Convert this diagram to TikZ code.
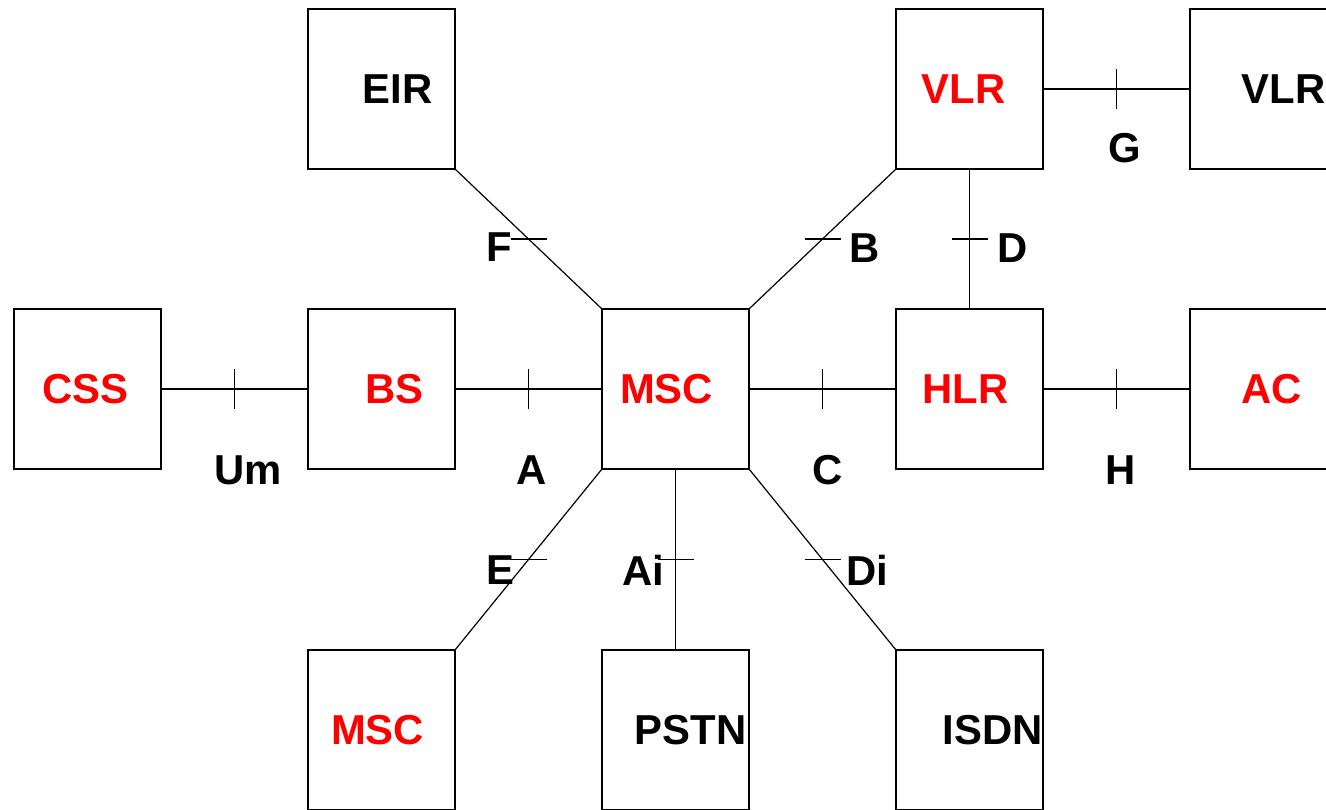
\documentclass[tikz,border=0pt]{standalone}
\usepackage{fontspec}
\setmainfont{Liberation Sans}
\usetikzlibrary{positioning,calc}

\begin{document}
\begin{tikzpicture}[
    x=1bp, y=1bp,
    node distance=147bp,
    box/.style={draw, rectangle, line width=1.3bp, outer sep=0, minimum width=147bp, minimum height=160bp, inner sep=0},
    elemtxt/.style={font=\fontsize{42}{50}\selectfont\bfseries, inner sep=0, anchor=center},
    hot/.style={text=red},
    iftxt/.style={font=\fontsize{42}{50}\selectfont\bfseries, inner sep=0, anchor=center},
    link/.style={line width=1.2bp}]
\useasboundingbox (0,0) rectangle (1326,809);

\node[box] (msc) at (675.5,420) {};
\node[box, left=of msc] (bs) {};
\node[box, left=of bs] (css) {};
\node[box, right=of msc] (hlr) {};
\node[box, right=of hlr] (ac) {};
\node[box, above left=140bp and 147bp of msc] (eir) {};
\node[box, above right=140bp and 147bp of msc] (vlr) {};
\node[box, right=of vlr] (vlrb) {};
\node[box, below left=181bp and 147bp of msc] (mscb) {};
\node[box, below=181bp of msc] (pstn) {};
\node[box, below right=181bp and 147bp of msc] (isdn) {};

\node[elemtxt, hot] (msc-t)  at ([xshift=-9bp]msc.center)   {MSC};
\node[elemtxt, hot] (bs-t)   at ([xshift=13bp]bs.center)    {BS};
\node[elemtxt, hot] (css-t)  at ([xshift=-2bp]css.center)   {CSS};
\node[elemtxt, hot] (hlr-t)  at ([xshift=-4bp]hlr.center)   {HLR};
\node[elemtxt, hot] (ac-t)   at ([xshift=8bp]ac.center)     {AC};
\node[elemtxt]      (eir-t)  at ([xshift=16bp]eir.center)   {EIR};
\node[elemtxt, hot] (vlr-t)  at ([xshift=-6bp]vlr.center)   {VLR};
\node[elemtxt]      (vlrb-t) at ([xshift=20bp]vlrb.center)  {VLR};
\node[elemtxt, hot] (mscb-t) at ([xshift=-4bp]mscb.center)  {MSC};
\node[elemtxt]      (pstn-t) at ([xshift=15bp]pstn.center)  {PSTN};
\node[elemtxt]      (isdn-t) at ([xshift=23bp]isdn.center)  {ISDN};

\path[draw, link] (eir.south east) -- coordinate[midway] (f-tick) (msc.north west);
\path[draw, link] (vlr.south west) -- coordinate[midway] (b-tick) (msc.north east);
\path[draw, link] (vlr.south) -- coordinate[midway] (d-tick) (hlr.north);
\path[draw, link] (vlr.east) -- coordinate[midway] (g-tick) (vlrb.west);
\path[draw, link] (css.east) -- coordinate[midway] (um-tick) (bs.west);
\path[draw, link] (bs.east) -- coordinate[midway] (a-tick) (msc.west);
\path[draw, link] (msc.east) -- coordinate[midway] (c-tick) (hlr.west);
\path[draw, link] (hlr.east) -- coordinate[midway] (h-tick) (ac.west);
\path[draw, link] (msc.south west) -- coordinate[midway] (e-tick) (mscb.north east);
\path[draw, link] (msc.south) -- coordinate[midway] (ai-tick) (pstn.north);
\path[draw, link] (msc.south east) -- coordinate[midway] (di-tick) (isdn.north west);

\foreach \t in {f,b,d,e,ai,di}
    \path[draw, link] ([xshift=-18bp]\t-tick) -- ([xshift=18bp]\t-tick);
\foreach \t in {g,um,a,c,h}
    \path[draw, link] ([yshift=-20bp]\t-tick) -- ([yshift=20bp]\t-tick);

\node[iftxt] (f-l)  at (499,562)  {F};
\node[iftxt] (b-l)  at (865,561)  {B};
\node[iftxt] (d-l)  at (1013,561) {D};
\node[iftxt] (g-l)  at (1125,661) {G};
\node[iftxt] (um-l) at (248,339)  {Um};
\node[iftxt] (a-l)  at (532,339)  {A};
\node[iftxt] (c-l)  at (828,339)  {C};
\node[iftxt] (h-l)  at (1121,339) {H};
\node[iftxt] (e-l)  at (500,239)  {E};
\node[iftxt] (ai-l) at (643,239)  {Ai};
\node[iftxt] (di-l) at (867,239)  {Di};

\end{tikzpicture}
\end{document}
